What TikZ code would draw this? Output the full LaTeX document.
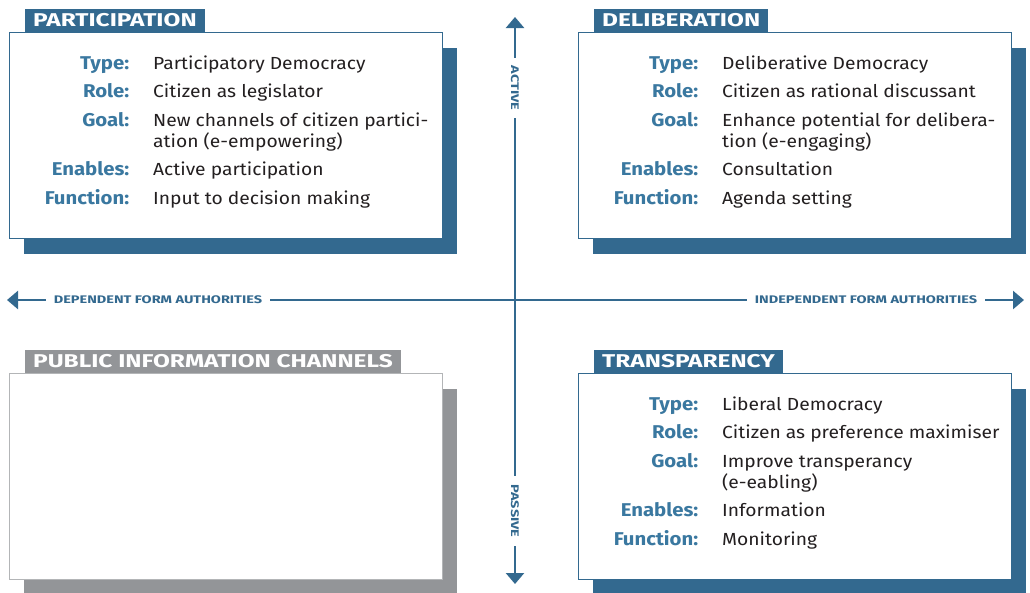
\documentclass[tikz,border=0pt]{standalone}
\usepackage{fontspec}
\usepackage{array}
\setmainfont[FakeStretch=1.1]{Fira Sans}
\newfontfamily\widesans[FakeStretch=1.32]{Fira Sans}
\usetikzlibrary{positioning,arrows.meta}

\definecolor{steel}{HTML}{33698F}
\definecolor{keyblue}{HTML}{3A78A0}
\definecolor{ink}{HTML}{231F20}
\definecolor{slate}{HTML}{939598}

\newlength{\rowgap}
\setlength{\rowgap}{7.5pt}
% two columns: bold key right aligned, plain value
\newcommand{\traits}[1]{%
  \begin{tabular}[t]{@{}>{\fontsize{18.5}{21}\selectfont\bfseries\color{keyblue}}w{r}{120pt}@{\hspace{24pt}}>{\color{ink}}l@{}}
  #1
  \end{tabular}}

\tikzset{
  card/.style={draw=#1, fill=white, line width=1pt, anchor=north west, inner sep=0pt,
    minimum width=433pt, minimum height=206pt},
  drop/.style={fill=#1, anchor=north west, inner sep=0pt,
    minimum width=433pt, minimum height=206pt},
  tab/.style={fill=#1, text=white, anchor=south west, font=\widesans\fontsize{18.5}{18.5}\selectfont\bfseries,
    inner xsep=8pt, inner ysep=5pt, text height=13pt, text depth=0pt},
  facts/.style={anchor=base west, inner sep=0pt, font=\fontsize{17.5}{21}\selectfont},
  axis/.style={draw=steel, line width=2.5pt, {Triangle[length=11pt,width=18pt]}-{Triangle[length=11pt,width=18pt]}},
  axislabel/.style={fill=white, text=steel, font=\widesans\fontsize{11}{11}\selectfont\bfseries,
    inner xsep=8pt, inner ysep=3pt},
}

\begin{document}
\begin{tikzpicture}[x=1pt, y=-1pt]
  \useasboundingbox (0,0) rectangle (1030,592);

  % axes
  \coordinate (top) at (515,17);
  \coordinate (bottom) at (515,584);
  \coordinate (west) at (7,300);
  \coordinate (east) at (1024,300);
  \draw[axis] (bottom) -- (top);
  \draw[axis] (west) -- (east);
  \node[axislabel, rotate=-90] (active) at (515,88) {ACTIVE};
  \node[axislabel, rotate=-90] (passive) at (515,511) {PASSIVE};
  \node[axislabel] (dependent) at (158,300) {DEPENDENT FORM AUTHORITIES};
  \node[axislabel] (independent) at (866,300) {INDEPENDENT FORM AUTHORITIES};

  % participation
  \node[drop=steel] (part-drop) at (24,48) {};
  \node[card=steel] (part) at (9,32) {};
  \node[tab=steel] (part-tab) at (25,32) {PARTICIPATION};
  \node[facts] (part-facts) at (9,69) {\traits{
    Type: & Participatory Democracy\\[\rowgap]
    Role: & Citizen as legislator\\[\rowgap]
    Goal: & New channels of citizen partici-\\
          & ation (e-empowering)\\[\rowgap]
    Enables: & Active participation\\[\rowgap]
    Function: & Input to decision making}};

  % deliberation
  \node[drop=steel] (delib-drop) at (593,48) {};
  \node[card=steel] (delib) at (578,32) {};
  \node[tab=steel] (delib-tab) at (594,32) {DELIBERATION};
  \node[facts] (delib-facts) at (578,69) {\traits{
    Type: & Deliberative Democracy\\[\rowgap]
    Role: & Citizen as rational discussant\\[\rowgap]
    Goal: & Enhance potential for delibera-\\
          & tion (e-engaging)\\[\rowgap]
    Enables: & Consultation\\[\rowgap]
    Function: & Agenda setting}};

  % public information channels
  \node[drop=slate] (pub-drop) at (24,389) {};
  \node[card=slate!70] (pub) at (9,373) {};
  \node[tab=slate] (pub-tab) at (25,373) {PUBLIC INFORMATION CHANNELS};

  % transparency
  \node[drop=steel] (trans-drop) at (593,389) {};
  \node[card=steel] (trans) at (578,373) {};
  \node[tab=steel] (trans-tab) at (594,373) {TRANSPARENCY};
  \node[facts] (trans-facts) at (578,410) {\traits{
    Type: & Liberal Democracy\\[\rowgap]
    Role: & Citizen as preference maximiser\\[\rowgap]
    Goal: & Improve transperancy\\
          & (e-eabling)\\[\rowgap]
    Enables: & Information\\[\rowgap]
    Function: & Monitoring}};
\end{tikzpicture}
\end{document}
